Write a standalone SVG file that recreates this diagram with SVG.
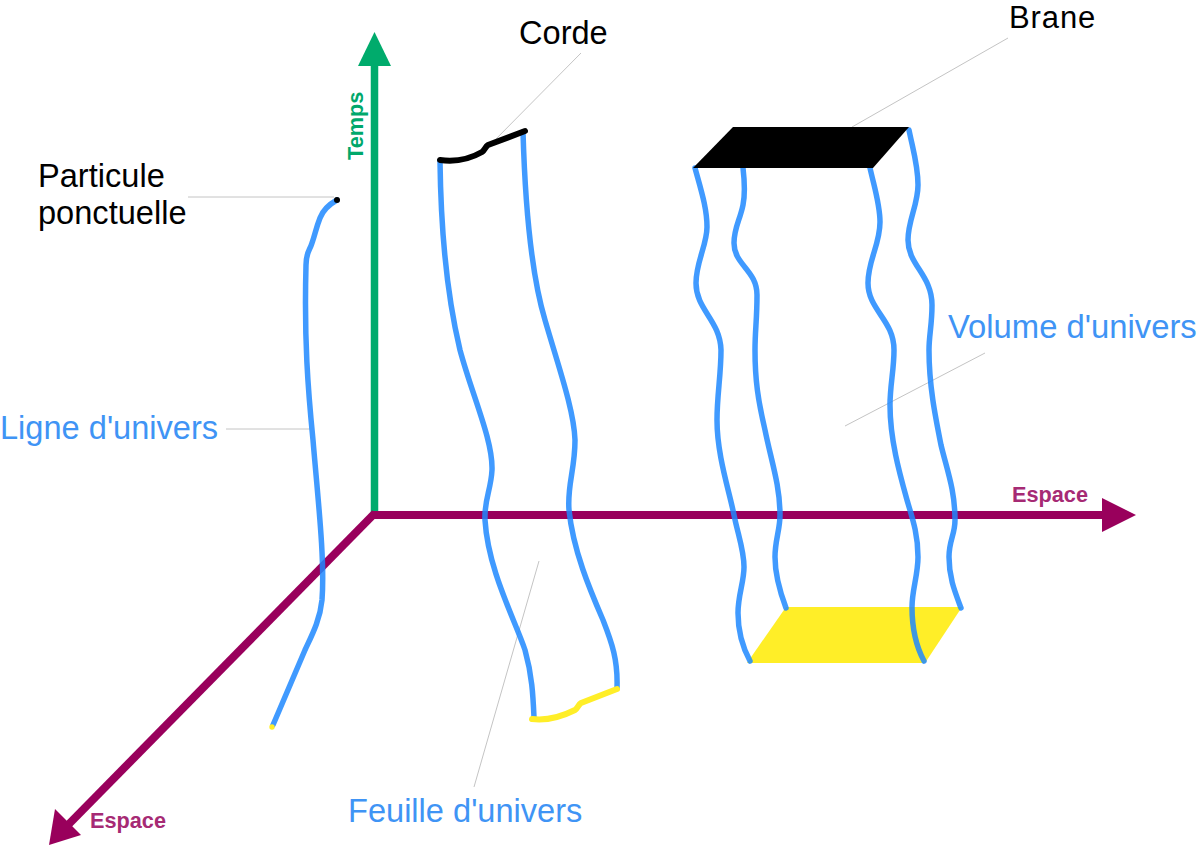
<svg xmlns="http://www.w3.org/2000/svg" width="1200" height="848" viewBox="0 0 1200 848">
<style>
.t{font-family:"Liberation Sans",Arial,sans-serif;font-size:32.6px}
.b{fill:#000}
.u{fill:#3f94f5}
.ax{font-family:"Liberation Sans",Arial,sans-serif;font-size:21.7px;font-weight:bold}
.w{fill:none;stroke:#1e88ff;stroke-opacity:.85;stroke-width:5.5;stroke-linecap:round;stroke-linejoin:round}
.g{fill:none;stroke:#c4c4c4;stroke-width:1}
.s{fill:none;stroke-width:6;stroke-linecap:round;stroke-linejoin:round}
</style>
<rect width="1200" height="848" fill="#fff"/>
<g id="leaders">
<path class="g" d="M188 197H334"/>
<path class="g" d="M226 429H310"/>
<path class="g" d="M581 53L492 143"/>
<path class="g" d="M1008 38L852 127"/>
<path class="g" d="M985 353L845 426"/>
<path class="g" d="M539 561L474 787"/>
</g>
<g id="brane-start">
<path fill="#ffee28" d="M786 607H962L925 663H747Z"/>
</g>
<g id="axes">
<path fill="none" stroke="#00ab6c" stroke-width="7.5" d="M374.5 514V60"/>
<path fill="#00ab6c" d="M358 66L374.5 32L391 66Z"/>
<path fill="none" stroke="#99005c" stroke-width="8" d="M372 515H1105"/>
<path fill="#99005c" d="M1102 498L1136 515L1102 532Z"/>
<path fill="none" stroke="#99005c" stroke-width="8" d="M375 513L66 827"/>
<path fill="#99005c" d="M49 845L55 809L81 835Z"/>
</g>
<g id="world-line">
<path class="w" d="M337 200C328 205 323 210 320 218C316 228 315 235 312 243C310 250 306 252 306 265C304 340 308 390 313 440C318 500 325 560 322 600C320 620 312 635 305 650L273 725"/>
<circle cx="337" cy="200" r="3" fill="#000"/>
<circle cx="272" cy="727" r="2.7" fill="#ffee28"/>
</g>
<g id="world-sheet">
<path class="w" d="M440 161C441 240 448 300 460 350C472 395 493 440 492 470C491 490 484 500 485 520C488 570 515 620 525 650C532 675 533 695 534 717"/>
<path class="w" d="M523 132C525 200 530 270 545 320C558 365 574 410 575 440C575 470 567 485 569 510C573 550 590 590 603 620C612 643 618 660 617 688"/>
<path class="s" stroke="#000" d="M440 160C455 162 470 159 482 152C485 150 485 147 488 145L525 131"/>
<path class="s" stroke="#ffee28" d="M532 719C548 721 563 716 575 710C578 708 578 705 581 703L617 689"/>
</g>
<g id="world-volume">
<path class="w" d="M695 168C701 190 707 208 707 227C707 245 696 262 696 283C696 310 720 320 721 350C721 375 717 395 717 420C717 455 729 490 734 515C738 535 744 550 744 567C744 582 738 595 738 613C738 630 743 648 750 661"/>
<path class="w" d="M743 168C745 185 745 195 743 205C740 220 734 228 734 243C734 265 757 270 757 295C757 320 755 330 755 350C755 380 758 400 765 430C771 460 780 485 780 515C780 530 775 540 775 557C775 575 780 592 786 608"/>
<path class="w" d="M870 168C875 190 880 205 880 222C880 245 868 260 868 283C868 310 894 320 894 350C894 370 890 385 890 405C890 440 900 475 907 500C913 520 918 535 918 557C918 575 912 590 912 607C912 630 917 648 924 661"/>
<path class="w" d="M909 130C913 150 918 165 918 185C918 205 908 220 908 240C908 265 932 275 932 305C932 325 929 335 929 350C929 385 935 415 941 445C947 470 955 490 955 520C955 535 949 540 949 557C949 578 955 592 961 608"/>
</g>
<g id="brane-end">
<path fill="#000" d="M733 127H909L873 168H693Z"/>
</g>
<g id="labels">
<text class="t b" x="38" y="186.5">Particule</text>
<text class="t b" x="38" y="224">ponctuelle</text>
<text class="t u" x="0" y="439">Ligne d'univers</text>
<text class="t b" x="519" y="44">Corde</text>
<text class="t b" x="1009" y="28" style="font-size:31px;letter-spacing:.9px">Brane</text>
<text class="t u" x="948" y="338" style="font-size:32.8px">Volume d'univers</text>
<text class="t u" x="348" y="822">Feuille d'univers</text>
<text class="ax" fill="#a62a74" x="1012" y="502">Espace</text>
<text class="ax" fill="#a62a74" x="90" y="827.5">Espace</text>
<text class="ax" fill="#00a86b" transform="translate(363 160) rotate(-90)">Temps</text>
</g>
</svg>
